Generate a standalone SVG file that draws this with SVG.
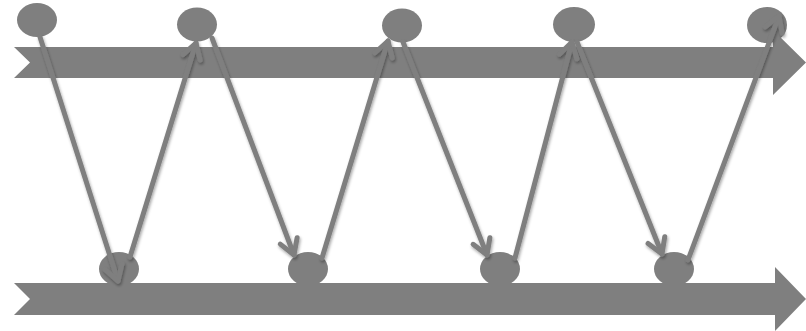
<svg xmlns="http://www.w3.org/2000/svg" width="806" height="331" viewBox="0 0 806 331">
<style>
.band{fill:#7f7f7f}
.dot{fill:#7f7f7f}
.conn{stroke:#7f7f7f;stroke-width:5;fill:none;stroke-linecap:round;marker-end:url(#head)}
</style>
<defs>
<filter id="sh" x="-20%" y="-20%" width="140%" height="140%">
<feDropShadow dx="1" dy="2" stdDeviation="1.5" flood-color="#000" flood-opacity="0.35"/>
</filter>
<marker id="head" markerUnits="userSpaceOnUse" markerWidth="30" markerHeight="30" refX="0" refY="0" viewBox="-20 -15 24 30" orient="auto" overflow="visible">
<path d="M-15,-9 L0,0 L-15,9" fill="none" stroke="#7f7f7f" stroke-width="5" stroke-linecap="round" stroke-linejoin="round"/>
</marker>
</defs>
<rect width="806" height="331" fill="#fff"/>
<g id="bottom-nodes">
<g id="b1"><ellipse class="dot" cx="119" cy="269" rx="20" ry="17"/></g>
<g id="b2"><ellipse class="dot" cx="308" cy="269" rx="20" ry="17"/></g>
<g id="b3"><ellipse class="dot" cx="500" cy="269" rx="20" ry="17"/></g>
<g id="b4"><ellipse class="dot" cx="674" cy="269" rx="20" ry="17"/></g>
</g>
<g id="top-band"><polygon class="band" points="14,47 773,47 773,30 806,62.5 773,95 773,78 14,78 30,62.5"/></g>
<g id="bottom-band"><polygon class="band" points="14,283 775,283 775,267 806,299 775,331 775,315 14,315 30,299"/></g>
<g id="top-nodes">
<g id="t1"><ellipse class="dot" cx="37" cy="20" rx="20" ry="17"/></g>
<g id="t2"><ellipse class="dot" cx="197" cy="24.5" rx="20" ry="17"/></g>
<g id="t3"><ellipse class="dot" cx="402" cy="25.5" rx="20" ry="17"/></g>
<g id="t4"><ellipse class="dot" cx="574" cy="24.5" rx="21" ry="17.5"/></g>
<g id="t5"><ellipse class="dot" cx="767" cy="25" rx="20" ry="18"/></g>
</g>
<g id="connectors" filter="url(#sh)">
<line class="conn" x1="40" y1="37" x2="118" y2="281"/>
<line class="conn" x1="130" y1="257" x2="196" y2="43"/>
<line class="conn" x1="212" y1="38" x2="294" y2="255"/>
<line class="conn" x1="322" y1="258" x2="388" y2="41"/>
<line class="conn" x1="403" y1="42" x2="487" y2="255"/>
<line class="conn" x1="515" y1="258" x2="572" y2="42"/>
<line class="conn" x1="577" y1="42" x2="662" y2="254"/>
<line class="conn" x1="688" y1="260" x2="779" y2="16"/>
</g>
</svg>
